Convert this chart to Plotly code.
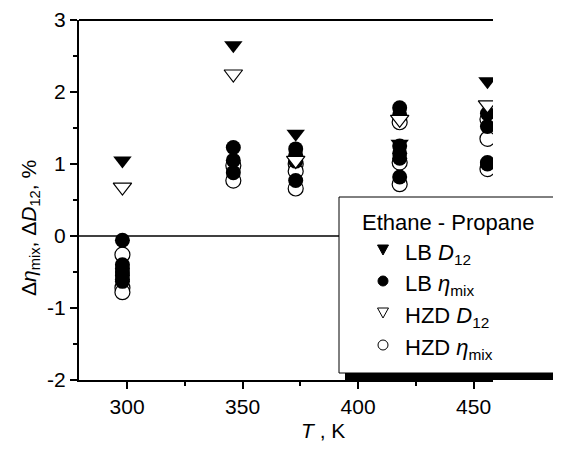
import plotly.graph_objects as go

# ---- data ----
T_LB_D12 = [298, 346, 373, 418, 456]
LB_D12 = [1.05, 2.65, 1.42, 1.28, 2.15]

T_HZD_D12 = [298, 346, 373, 418, 456]
HZD_D12 = [0.68, 2.25, 1.05, 1.62, 1.82]

T_LB_eta = [298, 298, 298, 298, 298, 298, 298,
            346, 346, 346,
            373, 373, 373, 373,
            418, 418, 418, 418, 418, 418,
            456, 456, 456, 456]
LB_eta = [-0.06, -0.40, -0.45, -0.50, -0.55, -0.60, -0.63,
          1.23, 1.05, 0.88,
          1.21, 1.12, 1.04, 0.77,
          1.78, 1.68, 1.25, 1.15, 1.08, 0.82,
          1.70, 1.52, 1.02, 1.00]

T_HZD_eta = [298, 298, 298,
             346, 346,
             373, 373, 373,
             418, 418, 418,
             456, 456, 456]
HZD_eta = [-0.26, -0.72, -0.78,
           0.98, 0.77,
           1.00, 0.90, 0.66,
           1.58, 1.02, 0.72,
           1.62, 1.35, 0.93]

x_tick_vals = [300, 350, 400, 450]
x_tick_text = ["300", "350", "400", "450"]
y_tick_vals = [-2, -1, 0, 1, 2, 3]
y_tick_text = ["-2", "-1", "0", "1", "2", "3"]

legend_title = "Ethane - Propane"
legend_names = ["LB <i>D</i><sub>12</sub>", "LB <i>η</i><sub>mix</sub>",
                "HZD <i>D</i><sub>12</sub>", "HZD <i>η</i><sub>mix</sub>"]

FONT = "Liberation Sans, Arial, sans-serif"

# page geometry (pixels in the 561x449 window); the page body has an 8px margin
PAGE_W, PAGE_H, OFF = 561, 449, 8
L, R, TOP, BOT = 79, 493, 20, 380
W, H = R - L, BOT - TOP


def px(X):
    return (X - L) / W


def py(Y):
    return (BOT - Y) / H


fig = go.Figure()

fig.add_trace(go.Scatter(x=T_HZD_eta, y=HZD_eta, mode="markers", showlegend=False,
                         marker=dict(symbol="circle", size=15, color="white",
                                     line=dict(color="black", width=1.2))))
fig.add_trace(go.Scatter(x=T_LB_eta, y=LB_eta, mode="markers", showlegend=False,
                         marker=dict(symbol="circle", size=15, color="black",
                                     line=dict(color="black", width=0))))
fig.add_trace(go.Scatter(x=T_HZD_D12, y=HZD_D12, mode="markers", showlegend=False,
                         marker=dict(symbol="triangle-down", size=16, color="white",
                                     line=dict(color="black", width=1.2))))
fig.add_trace(go.Scatter(x=T_LB_D12, y=LB_D12, mode="markers", showlegend=False,
                         marker=dict(symbol="triangle-down", size=16, color="black",
                                     line=dict(color="black", width=0))))

axis_common = dict(
    showgrid=False, zeroline=False, showline=True, linecolor="black", linewidth=2,
    ticks="outside", ticklen=7, tickwidth=1.5, tickcolor="black", automargin=False,
    tickfont=dict(family=FONT, size=21, color="black"),
)

fig.update_xaxes(range=[279.2, 458.4], tickvals=x_tick_vals, ticktext=x_tick_text,
                 minor=dict(ticks="outside", ticklen=4, tickwidth=1.5, tickcolor="black", dtick=25),
                 **axis_common)
fig.update_yaxes(range=[-2, 3], tickvals=y_tick_vals, ticktext=y_tick_text,
                 minor=dict(ticks="outside", ticklen=4, tickwidth=1.5, tickcolor="black", dtick=0.5),
                 **axis_common)

shapes = []
# zero line
shapes.append(dict(type="line", xref="paper", yref="y", x0=0, x1=1, y0=0, y1=0,
                   line=dict(color="black", width=1.5), layer="above"))
# top frame line
shapes.append(dict(type="line", xref="paper", yref="paper", x0=0, x1=1, y0=1, y1=1,
                   line=dict(color="black", width=2), layer="above"))
# legend shadow and box
shapes.append(dict(type="rect", xref="paper", yref="paper",
                   x0=px(345), x1=px(563), y0=py(380), y1=py(203),
                   fillcolor="black", line=dict(width=0), layer="above"))
shapes.append(dict(type="rect", xref="paper", yref="paper",
                   x0=px(339), x1=px(556), y0=py(373), y1=py(197),
                   fillcolor="white", line=dict(color="black", width=1), layer="above"))

# legend symbols
sym_x = 383
row_y = [250, 281, 313, 345]


def tri(cx, cy, w=11, h=10):
    return (f"M {px(cx - w / 2)},{py(cy - h / 2)} L {px(cx + w / 2)},{py(cy - h / 2)} "
            f"L {px(cx)},{py(cy + h / 2)} Z")


def circ(cx, cy, r=5):
    return dict(x0=px(cx - r), x1=px(cx + r), y0=py(cy + r), y1=py(cy - r))


shapes.append(dict(type="path", xref="paper", yref="paper", path=tri(sym_x, row_y[0]),
                   fillcolor="black", line=dict(color="black", width=1), layer="above"))
shapes.append(dict(type="circle", xref="paper", yref="paper", **circ(sym_x, row_y[1]),
                   fillcolor="black", line=dict(color="black", width=1), layer="above"))
shapes.append(dict(type="path", xref="paper", yref="paper", path=tri(sym_x, row_y[2]),
                   fillcolor="white", line=dict(color="black", width=1), layer="above"))
shapes.append(dict(type="circle", xref="paper", yref="paper", **circ(sym_x, row_y[3]),
                   fillcolor="white", line=dict(color="black", width=1), layer="above"))

annotations = []
annotations.append(dict(text=legend_title, xref="paper", yref="paper",
                        x=px(360), y=py(222), xanchor="left", yanchor="middle",
                        showarrow=False, font=dict(family=FONT, size=22, color="black")))
for name, yy in zip(legend_names, row_y):
    annotations.append(dict(text=name, xref="paper", yref="paper",
                            x=px(403), y=py(yy + 4), xanchor="left", yanchor="middle",
                            showarrow=False, font=dict(family=FONT, size=22, color="black")))
# x axis title
annotations.append(dict(text="<i>T</i> , K", xref="paper", yref="paper",
                        x=px(323), y=py(430), xanchor="center", yanchor="middle",
                        showarrow=False, font=dict(family=FONT, size=21, color="black")))
# y axis title
annotations.append(dict(text="Δ<i>η</i><sub>mix</sub>, Δ<i>D</i><sub>12</sub>, %",
                        xref="paper", yref="paper", textangle=-90,
                        x=px(30), y=py(228), xanchor="center", yanchor="middle",
                        showarrow=False, font=dict(family=FONT, size=21, color="black")))

fig.update_layout(
    width=PAGE_W - OFF, height=PAGE_H - OFF,
    margin=dict(l=L - OFF, r=PAGE_W - R, t=TOP - OFF, b=PAGE_H - BOT),
    plot_bgcolor="white", paper_bgcolor="white",
    font=dict(family=FONT, color="black"),
    showlegend=False,
    shapes=shapes, annotations=annotations,
)

fig.write_html("out.html")
